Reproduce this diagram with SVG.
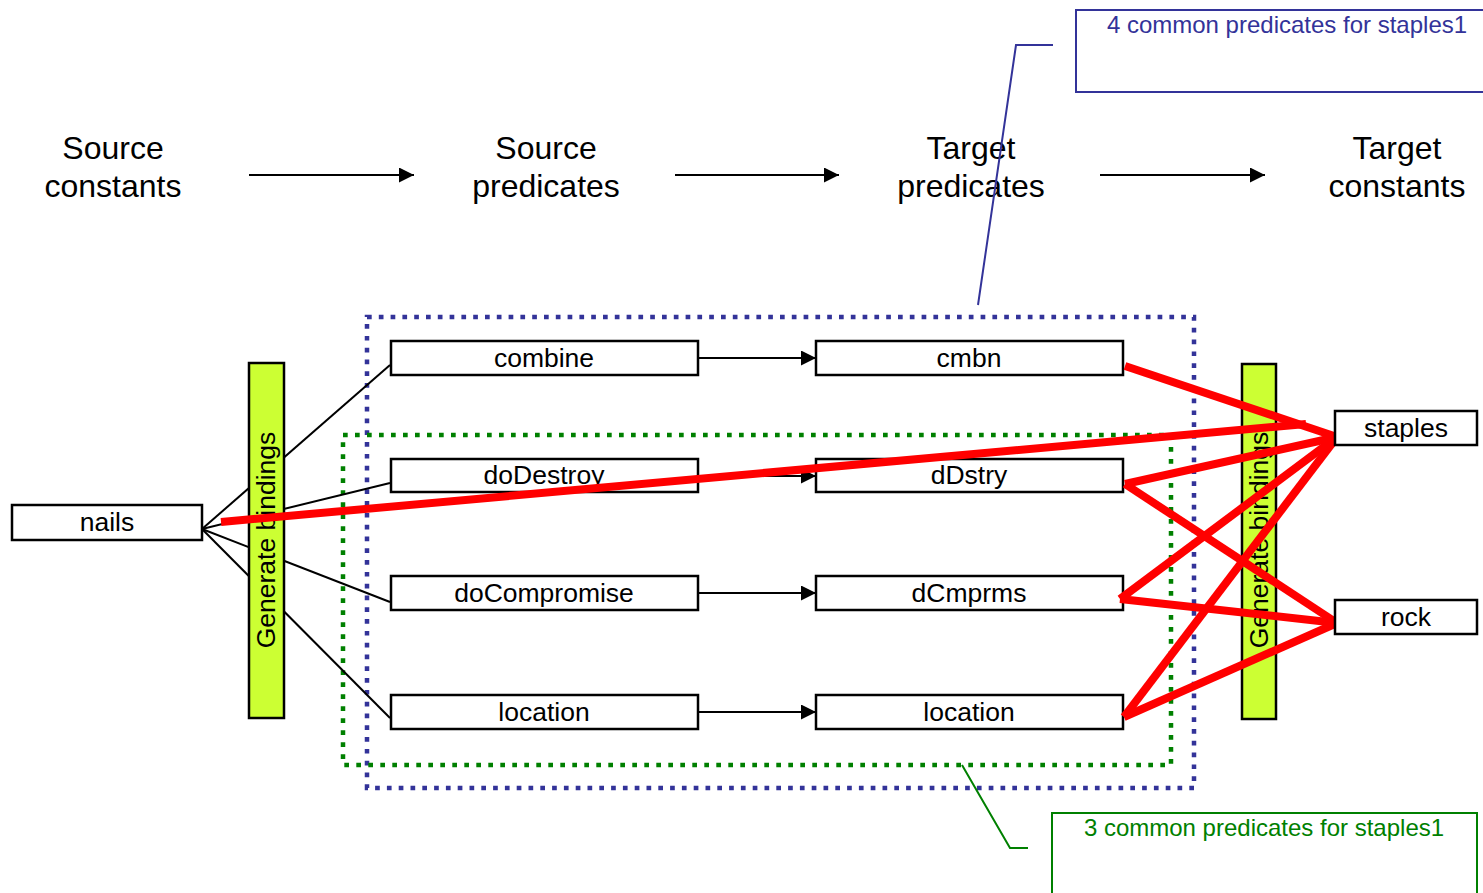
<svg xmlns="http://www.w3.org/2000/svg" width="1483" height="893" viewBox="0 0 1483 893">
  <defs>
    <marker id="arr" markerUnits="userSpaceOnUse" markerWidth="15" markerHeight="15" refX="15" refY="7.5" orient="auto">
      <path d="M0,0 L15,7.5 L0,15 z" fill="#000"/>
    </marker>
    <style>
      .hdr{font-family:"Liberation Sans",Arial,sans-serif;font-size:32px;fill:#000;text-anchor:middle}
      .lbl{font-family:"Liberation Sans",Arial,sans-serif;font-size:26.5px;fill:#000;text-anchor:middle}
      .box{fill:#fff;stroke:#000;stroke-width:2.5}
      .bar{fill:#CCFF33;stroke:#000;stroke-width:2.5}
      .arrow{stroke:#000;stroke-width:2;fill:none;marker-end:url(#arr)}
      .fan{stroke:#000;stroke-width:2;fill:none}
      .red{stroke:#FF0000;stroke-width:8;fill:none}
      .co{font-family:"Liberation Sans",Arial,sans-serif;font-size:24px;text-anchor:middle}
    </style>
  </defs>
  <rect width="1483" height="893" fill="#fff"/>

  <g id="headers">
    <text class="hdr" x="113" y="159">Source<tspan x="113" y="197">constants</tspan></text>
    <text class="hdr" x="546" y="159">Source<tspan x="546" y="197">predicates</tspan></text>
    <text class="hdr" x="971" y="159">Target<tspan x="971" y="197">predicates</tspan></text>
    <text class="hdr" x="1397" y="159">Target<tspan x="1397" y="197">constants</tspan></text>
  </g>

  <g id="header-arrows">
    <line class="arrow" x1="249" y1="175" x2="414" y2="175"/>
    <line class="arrow" x1="675" y1="175" x2="839" y2="175"/>
    <line class="arrow" x1="1100" y1="175" x2="1265" y2="175"/>
  </g>

  <g id="group-blue">
    <rect x="367" y="317" width="827" height="471" fill="none" stroke="#333399" stroke-width="4.5" stroke-dasharray="4.7 7.1"/>
  </g>
  <g id="group-green">
    <rect x="343" y="435" width="828" height="330" fill="none" stroke="#008000" stroke-width="4.5" stroke-dasharray="4.7 7.3"/>
  </g>

  <g id="connectors">
    <line class="fan" x1="202" y1="529" x2="390" y2="365"/>
    <line class="fan" x1="202" y1="529" x2="390" y2="483"/>
    <line class="fan" x1="202" y1="529" x2="390" y2="602"/>
    <line class="fan" x1="202" y1="529" x2="390" y2="718"/>
    <line class="arrow" x1="698" y1="358" x2="816" y2="358"/>
    <line class="arrow" x1="698" y1="476" x2="816" y2="476"/>
    <line class="arrow" x1="698" y1="593" x2="816" y2="593"/>
    <line class="arrow" x1="698" y1="712" x2="816" y2="712"/>
  </g>

  <g id="bind-left">
    <rect class="bar" x="249" y="363" width="35" height="355"/>
    <text class="lbl" transform="translate(275,540) rotate(-90)" x="0" y="0">Generate bindings</text>
  </g>

  <g id="nails">
    <rect class="box" x="12" y="505" width="190" height="35"/>
    <text class="lbl" x="107" y="531">nails</text>
  </g>

  <g id="combine"><rect class="box" x="391" y="341" width="307" height="34"/><text class="lbl" x="544" y="367">combine</text></g>
  <g id="doDestroy"><rect class="box" x="391" y="459" width="307" height="33"/><text class="lbl" x="544" y="484">doDestroy</text></g>
  <g id="doCompromise"><rect class="box" x="391" y="576" width="307" height="34"/><text class="lbl" x="544" y="602">doCompromise</text></g>
  <g id="location-src"><rect class="box" x="391" y="695" width="307" height="34"/><text class="lbl" x="544" y="721">location</text></g>

  <g id="cmbn"><rect class="box" x="816" y="341" width="307" height="34"/><text class="lbl" x="969" y="367">cmbn</text></g>
  <g id="dDstry"><rect class="box" x="816" y="459" width="307" height="33"/><text class="lbl" x="969" y="484">dDstry</text></g>
  <g id="dCmprms"><rect class="box" x="816" y="576" width="307" height="34"/><text class="lbl" x="969" y="602">dCmprms</text></g>
  <g id="location-tgt"><rect class="box" x="816" y="695" width="307" height="34"/><text class="lbl" x="969" y="721">location</text></g>

  <g id="bind-right">
    <rect class="bar" x="1242" y="364" width="34" height="355"/>
    <text class="lbl" transform="translate(1268,540) rotate(-90)" x="0" y="0">Generate bindings</text>
  </g>

  <g id="red-connectors">
    <line class="red" x1="1125" y1="366" x2="1337" y2="437"/>
    <line class="red" x1="1125" y1="484" x2="1337" y2="437"/>
    <line class="red" x1="1125" y1="484" x2="1337" y2="623"/>
    <line class="red" x1="1120" y1="599" x2="1337" y2="437"/>
    <line class="red" x1="1120" y1="599" x2="1337" y2="623"/>
    <line class="red" x1="1124" y1="717" x2="1337" y2="437"/>
    <line class="red" x1="1124" y1="717" x2="1337" y2="623"/>
    <line class="red" stroke-width="11" x1="221" y1="522" x2="1306" y2="424"/>
  </g>

  <g id="staples">
    <rect class="box" x="1335" y="411" width="142" height="34"/>
    <text class="lbl" x="1406" y="437">staples</text>
  </g>
  <g id="rock">
    <rect class="box" x="1335" y="600" width="142" height="34"/>
    <text class="lbl" x="1406" y="626">rock</text>
  </g>

  <g id="callout-blue">
    <polyline points="978,305 1016,45 1053,45" fill="none" stroke="#333399" stroke-width="2"/>
    <rect x="1076" y="10" width="420" height="82" fill="#fff" stroke="#333399" stroke-width="2"/>
    <text class="co" x="1287" y="33" fill="#333399">4 common predicates for staples1</text>
  </g>

  <g id="callout-green">
    <polyline points="962,765 1010,848 1028,848" fill="none" stroke="#008000" stroke-width="2"/>
    <rect x="1052" y="813" width="425" height="100" fill="#fff" stroke="#008000" stroke-width="2"/>
    <text class="co" x="1264" y="836" fill="#008000">3 common predicates for staples1</text>
  </g>
</svg>
